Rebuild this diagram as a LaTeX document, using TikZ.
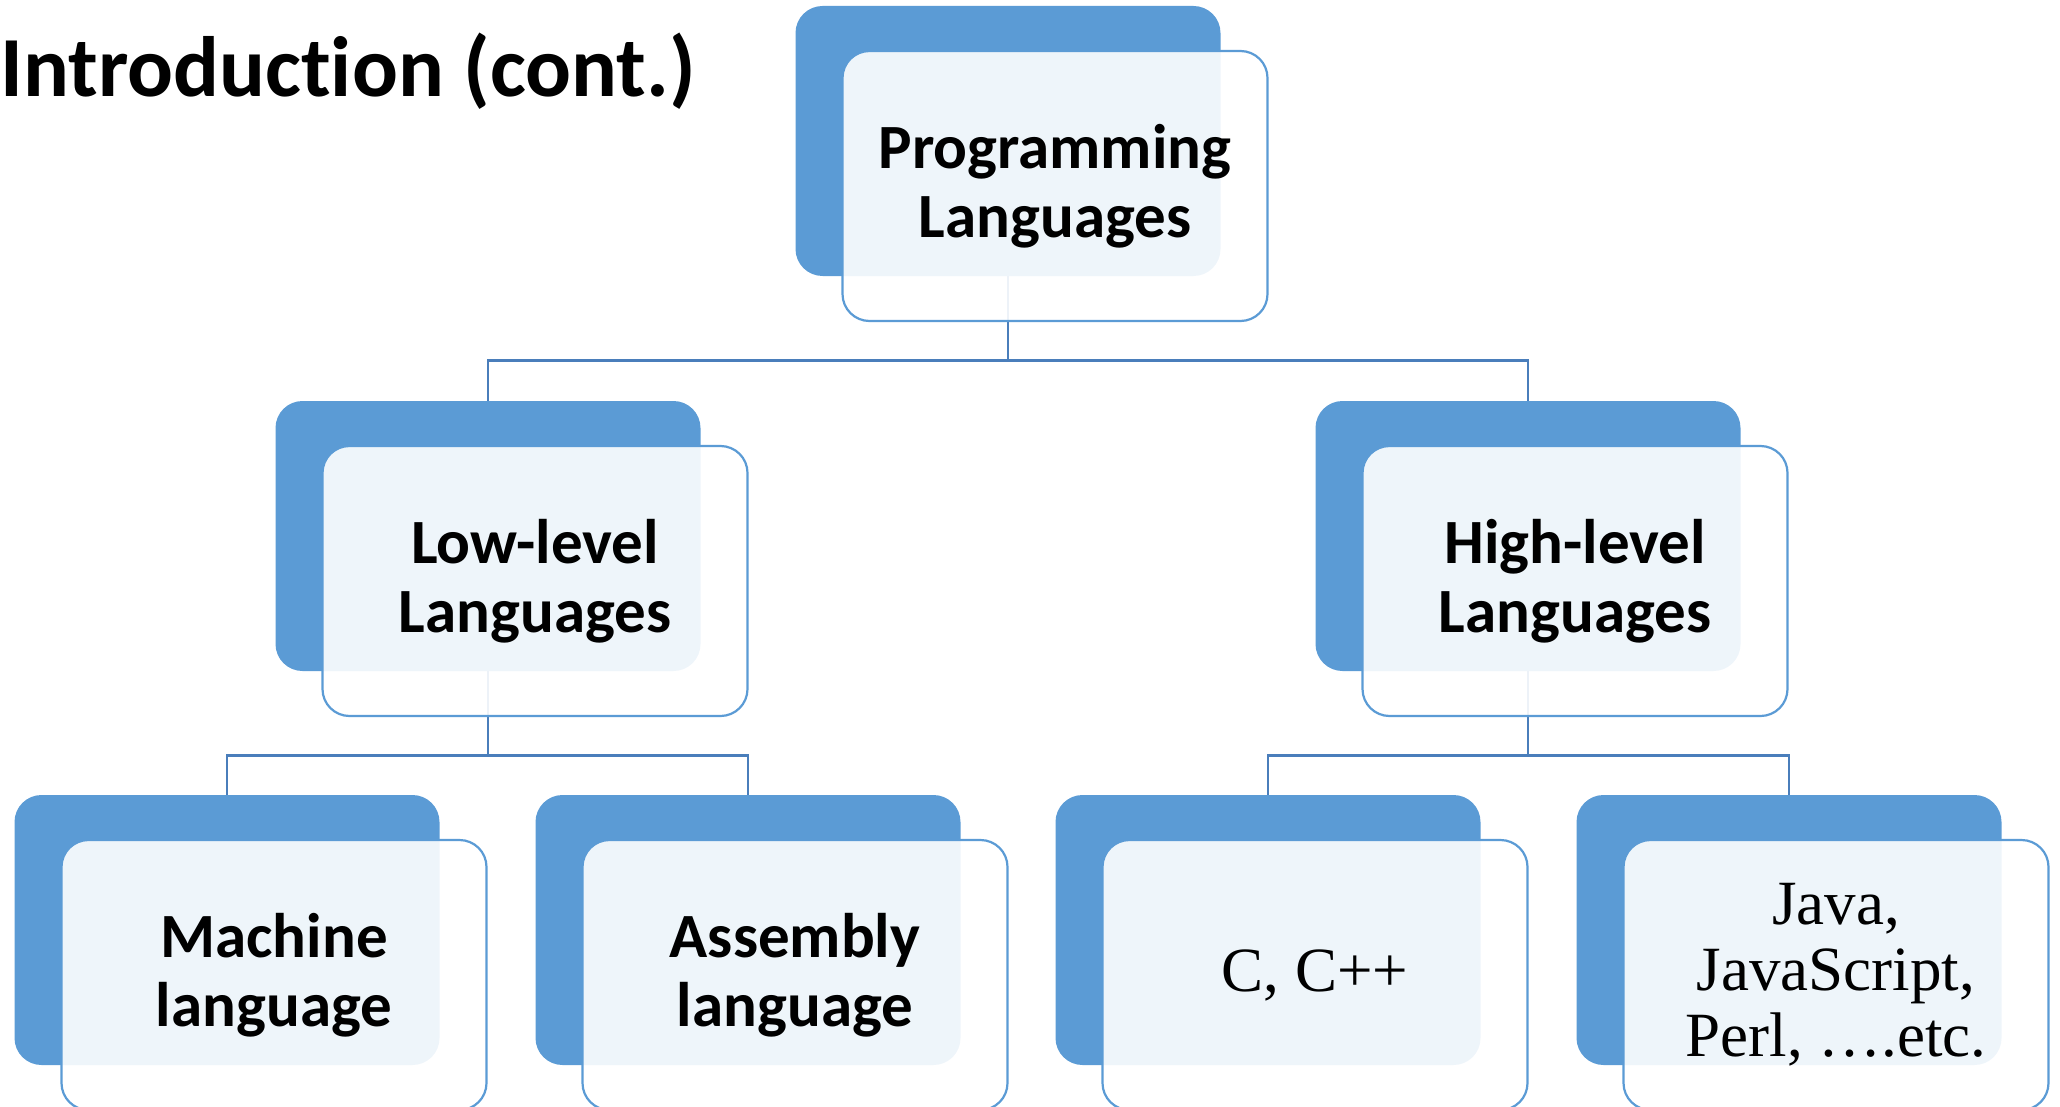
\documentclass[tikz,border=0pt]{standalone}
\usepackage{fontspec}
\setmainfont{Carlito}[Ligatures=NoCommon]
\newfontfamily\timesfont{Liberation Serif}
\usepackage{tikz}
\usetikzlibrary{calc}
\definecolor{boxblue}{HTML}{5B9BD5}
\definecolor{linkblue}{HTML}{4A7EBB}

\begin{document}
\begin{tikzpicture}[x=0.5pt, y=-0.5pt,
                    langbox/.style={rectangle, rounded corners=13.5pt, minimum width=212.5pt, minimum height=135pt, inner sep=0pt},
                    back/.style={langbox, fill=boxblue},
                    front/.style={langbox, draw=boxblue, line width=1.1pt, fill=white, fill opacity=0.9, text opacity=1,
                                  align=center, font=\fontsize{31.5}{34.5}\selectfont\bfseries},
                    serif/.style={font=\timesfont\fontsize{31.5}{33}\selectfont},
                    link/.style={draw=linkblue, line width=1.3pt},
                    ]
\clip (0,0) rectangle (2060,1107);

\node[anchor=base west, inner sep=0pt, font=\fontsize{42.8}{50}\selectfont\bfseries] (title) at (0,97) {Introduction (cont.)};

%% blue back boxes
\node[back] (pl) at (1008,141) {};
\node[back] (low) at (488,536) {};
\node[back] (high) at (1528,536) {};
\node[back] (mach) at (227,930) {};
\node[back] (asm) at (748,930) {};
\node[back] (cpp) at (1268,930) {};
\node[back] (java) at (1789,930) {};

%% connectors
\draw[link] (pl.south) -- ++(0,84) -| (low.north);
\draw[link] (pl.south) -- ++(0,84) -| (high.north);
\draw[link] (low.south) -- ++(0,84) -| (mach.north);
\draw[link] (low.south) -- ++(0,84) -| (asm.north);
\draw[link] (high.south) -- ++(0,84) -| (cpp.north);
\draw[link] (high.south) -- ++(0,84) -| (java.north);

%% front boxes with the labels
\node[front] (pl-f) at ($(pl)+(47,45)$) {Programming\\Languages};
\node[front] (low-f) at ($(low)+(47,45)$) {Low-level\\Languages};
\node[front] (high-f) at ($(high)+(47,45)$) {High-level\\Languages};
\node[front] (mach-f) at ($(mach)+(47,45)$) {Machine\\language};
\node[front] (asm-f) at ($(asm)+(47,45)$) {Assembly\\language};
\node[front, serif] (cpp-f) at ($(cpp)+(47,45)$) {C, C++};
\node[front, serif] (java-f) at ($(java)+(47,45)$) {Java,\\JavaScript,\\Perl, \dots.etc.};
\end{tikzpicture}
\end{document}
